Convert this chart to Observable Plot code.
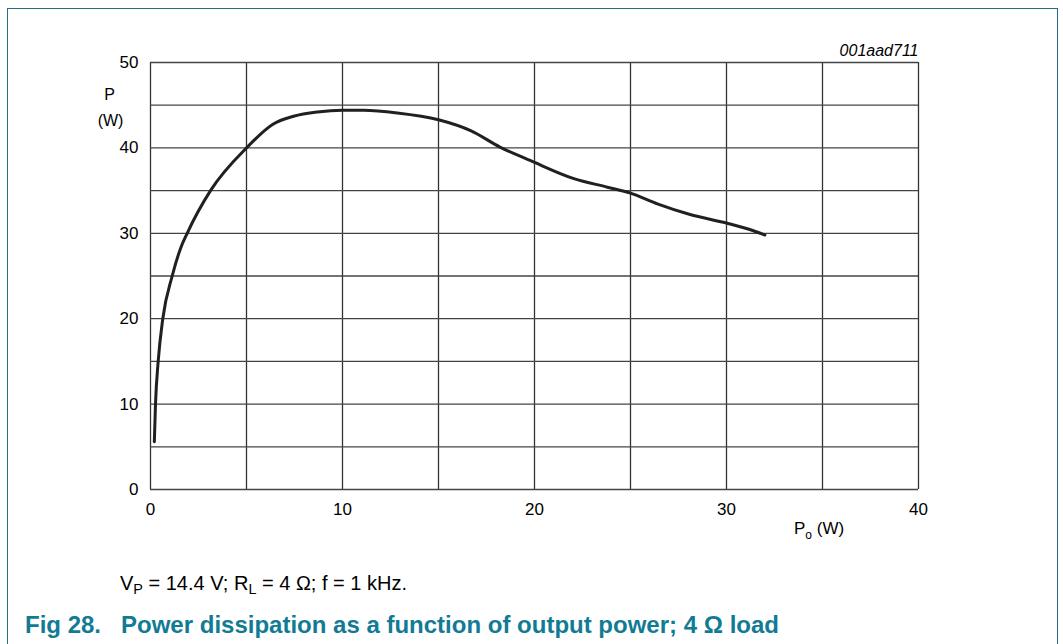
<!DOCTYPE html>
<html>
<head>
<meta charset="utf-8">
<script src="https://cdn.jsdelivr.net/npm/d3@7"></script>
<script src="https://cdn.jsdelivr.net/npm/@observablehq/plot@0.6"></script>
<style>
  html, body { margin: 0; padding: 0; background: #fff; }
  #wrap { position: relative; width: 1063px; height: 644px; overflow: hidden; font-family: "Liberation Sans", Arial, sans-serif; }
  #frame { position: absolute; left: 7px; top: 8px; width: 1051px; height: 700px; border: 1.5px solid #1f7088; box-sizing: border-box; }
  #chart { position: absolute; left: 0; top: 0; }
  .t { position: absolute; white-space: nowrap; color: #000; line-height: 1; }
  #cond { left: 120px; top: 573px; font-size: 20px; }
  #title { left: 25px; top: 613px; font-size: 24px; font-weight: bold; color: #127b94; }
  #title .sp { display: inline-block; width: 20px; }
  sub { font-size: 0.72em; vertical-align: -0.28em; line-height: 0; }
</style>
</head>
<body>
<div id="wrap">
  <div id="frame"></div>
  <div id="chart"></div>
  <div class="t" id="cond">V<sub>P</sub> = 14.4 V; R<sub>L</sub> = 4 &Omega;; f = 1 kHz.</div>
  <div class="t" id="title">Fig 28.<span class="sp"></span>Power dissipation as a function of output power; 4 &Omega; load</div>
</div>
<script>
// Output power Po (W)
const po = [0.2, 0.26, 0.4, 0.64, 1.13, 1.56, 1.91, 3.125, 5.0, 6.4, 7.45, 8.7, 10.0, 11.1, 12.85, 15.0, 16.7, 18.2, 19.8, 22.05, 23.8, 25.0, 26.4, 28.1, 30.0, 31.4, 32.0];
// Power dissipation P (W)
const pd = [5.6, 10.0, 15.0, 20.0, 25.0, 28.2, 30.0, 35.0, 40.0, 42.8, 43.7, 44.2, 44.4, 44.4, 44.1, 43.3, 42.0, 40.1, 38.5, 36.4, 35.4, 34.7, 33.45, 32.2, 31.2, 30.3, 29.8];
const xTicks = [0, 10, 20, 30, 40];
const yTicks = [0, 10, 20, 30, 40, 50];
const xGrid = [0, 5, 10, 15, 20, 25, 30, 35, 40];
const yGrid = [0, 5, 10, 15, 20, 25, 30, 35, 40, 45, 50];
const figId = "001aad711";

const data = po.map((x, i) => ({x, y: pd[i]}));

const chart = Plot.plot({
  width: 1063,
  height: 560,
  marginLeft: 150,
  marginRight: 145,
  marginTop: 62,
  marginBottom: 71,
  style: {fontFamily: "'Liberation Sans', Arial, sans-serif", fontSize: "17px", color: "#000", background: "transparent", overflow: "visible"},
  x: {domain: [0, 40], ticks: xTicks, tickSize: 0, tickPadding: 13, label: null},
  y: {domain: [0, 50], ticks: yTicks, tickSize: 0, tickPadding: 12, label: null},
  marks: [
    Plot.ruleX(xGrid, {stroke: "#333", strokeWidth: 1.3}),
    Plot.ruleY(yGrid, {stroke: "#444", strokeWidth: 1.3}),
    Plot.axisX({ticks: xTicks, tickSize: 0, tickPadding: 13, label: null, fontSize: 17}),
    Plot.axisY({ticks: yTicks, tickSize: 0, tickPadding: 12, label: null, fontSize: 17}),
    Plot.line(data, {x: "x", y: "y", curve: "monotone-x", stroke: "#231f20", strokeWidth: 3}),
    Plot.text([figId], {x: 40, y: 50, text: d => d, textAnchor: "end", dy: -12, fontStyle: "italic", fontSize: 16}),
    Plot.text(["P"], {x: 0, y: 45, text: d => d, dx: -41, dy: -10, fontSize: 16}),
    Plot.text(["(W)"], {x: 0, y: 45, text: d => d, dx: -40, dy: 16, fontSize: 16}),
  ]
});

// Po (W) axis label with subscript
const svg = d3.select(chart);
const lbl = svg.append("text")
  .attr("x", 794).attr("y", 534)
  .attr("text-anchor", "start")
  .attr("font-size", 17)
  .attr("fill", "#000");
lbl.append("tspan").text("P");
lbl.append("tspan").attr("dy", 5).attr("font-size", 12).text("o");
lbl.append("tspan").attr("dy", -5).text(" (W)");

document.getElementById("chart").appendChild(chart);
</script>
</body>
</html>
